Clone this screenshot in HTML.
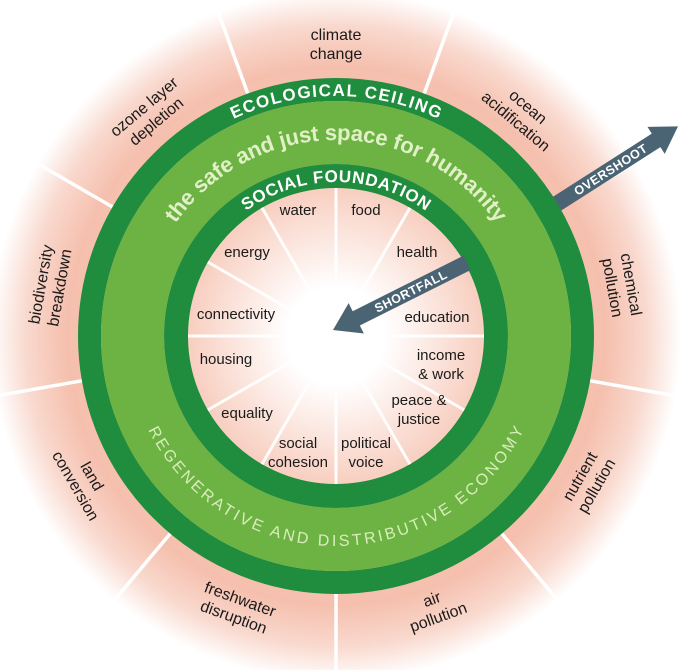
<!DOCTYPE html>
<html><head><meta charset="utf-8"><style>
html,body{margin:0;padding:0;background:#fff;width:685px;height:670px;overflow:hidden}
svg{display:block}
.l{font-family:"Liberation Sans",sans-serif;font-size:15px;fill:#1a1a1a;text-anchor:middle}
.o{font-family:"Liberation Sans",sans-serif;font-size:16px;fill:#1a1a1a;text-anchor:middle}
.w{font-family:"Liberation Sans",sans-serif;font-weight:bold;fill:#fff}
</style></head><body>
<svg width="685" height="670" viewBox="0 0 685 670" xmlns="http://www.w3.org/2000/svg">
<defs>
<radialGradient id="bg" cx="336" cy="336" r="345" gradientUnits="userSpaceOnUse">
<stop offset="0" stop-color="#fff"/>
<stop offset="0.14" stop-color="#fff"/>
<stop offset="0.42" stop-color="#f8d0c2"/>
<stop offset="0.78" stop-color="#f5bfad"/>
<stop offset="0.9" stop-color="#f9d9ce"/>
<stop offset="1" stop-color="#fff"/>
</radialGradient>
<path id="eco" d="M96,336 A240,240 0 0 1 576,336"/>
<path id="soc" d="M182,336 A154,154 0 0 1 490,336"/>
<path id="safe" d="M140,336 A196,196 0 0 1 532,336"/>
<path id="reg" d="M126,336 A210,210 0 0 0 546,336"/>
</defs>
<rect width="685" height="670" fill="#fff"/>
<circle cx="336" cy="336" r="345" fill="url(#bg)"/>
<g stroke="#fff" stroke-width="3.5">
<line x1="336" y1="594" x2="336" y2="680"/>
<line x1="501.8" y1="533.6" x2="557" y2="599.4"/>
<line x1="590.1" y1="380.8" x2="674.7" y2="395.7"/>
<line x1="559.4" y1="207" x2="633.8" y2="164"/>
<line x1="424.2" y1="93.6" x2="453.6" y2="12.8"/>
<line x1="247.8" y1="93.6" x2="218.4" y2="12.8"/>
<line x1="112.6" y1="207" x2="38.2" y2="164"/>
<line x1="81.9" y1="380.8" x2="-2.7" y2="395.7"/>
<line x1="170.2" y1="533.6" x2="115" y2="599.4"/>
</g>
<g transform="translate(555,205) rotate(-32.6)">
<polygon points="-30,-8 120,-8 120,-16 146,0 120,16 120,8 -30,8" fill="#4a6474"/>
<text class="w" x="66" y="4.5" font-size="12.5" text-anchor="middle" letter-spacing="0.5">OVERSHOOT</text>
</g>
<circle cx="336" cy="336" r="246.5" fill="none" stroke="#1f8c3e" stroke-width="23"/>
<circle cx="336" cy="336" r="203.5" fill="none" stroke="#6db344" stroke-width="63"/>
<circle cx="336" cy="336" r="160" fill="none" stroke="#1f8c3e" stroke-width="24"/>
<g stroke="#fff" stroke-width="3" opacity="0.95">
<line x1="336" y1="296" x2="336" y2="188"/>
<line x1="316" y1="301.4" x2="262" y2="207.8"/>
<line x1="301.4" y1="316" x2="207.8" y2="262"/>
<line x1="296" y1="336" x2="188" y2="336"/>
<line x1="301.4" y1="356" x2="207.8" y2="410"/>
<line x1="316" y1="370.6" x2="262" y2="464.2"/>
<line x1="336" y1="376" x2="336" y2="484"/>
<line x1="356" y1="370.6" x2="410" y2="464.2"/>
<line x1="370.6" y1="356" x2="464.2" y2="410"/>
<line x1="376" y1="336" x2="484" y2="336"/>
<line x1="370.6" y1="316" x2="464.2" y2="262"/>
<line x1="356" y1="301.4" x2="410" y2="207.8"/>
</g>
<g transform="translate(333,330) rotate(-26.6)">
<polygon points="0,0 26,-17 26,-8 150,-8 150,8 26,8 26,17" fill="#4a6474"/>
<text class="w" x="87" y="4.5" font-size="12.5" text-anchor="middle" letter-spacing="0.5">SHORTFALL</text>
</g>
<text class="w" font-size="17" text-anchor="middle"><textPath href="#eco" startOffset="50%" textLength="212" lengthAdjust="spacing">ECOLOGICAL CEILING</textPath></text>
<text class="w" font-size="17" text-anchor="middle"><textPath href="#soc" startOffset="50%" textLength="192" lengthAdjust="spacing">SOCIAL FOUNDATION</textPath></text>
<text class="w" font-size="22" text-anchor="middle" style="fill:#e2f0c8"><textPath href="#safe" startOffset="50%" textLength="376" lengthAdjust="spacing">the safe and just space for humanity</textPath></text>
<text font-family="Liberation Sans,sans-serif" font-size="16" text-anchor="middle" fill="#d9edbb"><textPath href="#reg" startOffset="50%" textLength="465" lengthAdjust="spacing">REGENERATIVE AND DISTRIBUTIVE ECONOMY</textPath></text>
<text class="l" x="298" y="215">water</text>
<text class="l" x="366" y="215">food</text>
<text class="l" x="247" y="257">energy</text>
<text class="l" x="417" y="257">health</text>
<text class="l" x="236" y="319">connectivity</text>
<text class="l" x="437" y="322">education</text>
<text class="l" x="226" y="364">housing</text>
<text class="l" x="441" y="360">income</text>
<text class="l" x="441" y="379">&amp; work</text>
<text class="l" x="419" y="405">peace &amp;</text>
<text class="l" x="419" y="424">justice</text>
<text class="l" x="247" y="418">equality</text>
<text class="l" x="298" y="448">social</text>
<text class="l" x="298" y="467">cohesion</text>
<text class="l" x="366" y="448">political</text>
<text class="l" x="366" y="467">voice</text>
<g transform="translate(336,44)"><text class="o" y="-4">climate</text><text class="o" y="15">change</text></g>
<g transform="translate(150,114) rotate(-40)"><text class="o" y="-4">ozone layer</text><text class="o" y="15">depletion</text></g>
<g transform="translate(50,286) rotate(-80)"><text class="o" y="-4">biodiversity</text><text class="o" y="15">breakdown</text></g>
<g transform="translate(84,481) rotate(60)"><text class="o" y="-4">land</text><text class="o" y="15">conversion</text></g>
<g transform="translate(237,608) rotate(20)"><text class="o" y="-4">freshwater</text><text class="o" y="15">disruption</text></g>
<g transform="translate(435,608) rotate(-20)"><text class="o" y="-4">air</text><text class="o" y="15">pollution</text></g>
<g transform="translate(588,481) rotate(-60)"><text class="o" y="-4">nutrient</text><text class="o" y="15">pollution</text></g>
<g transform="translate(622,286) rotate(80)"><text class="o" y="-4">chemical</text><text class="o" y="15">pollution</text></g>
<g transform="translate(522,114) rotate(40)"><text class="o" y="-4">ocean</text><text class="o" y="15">acidification</text></g>
</svg>
</body></html>
